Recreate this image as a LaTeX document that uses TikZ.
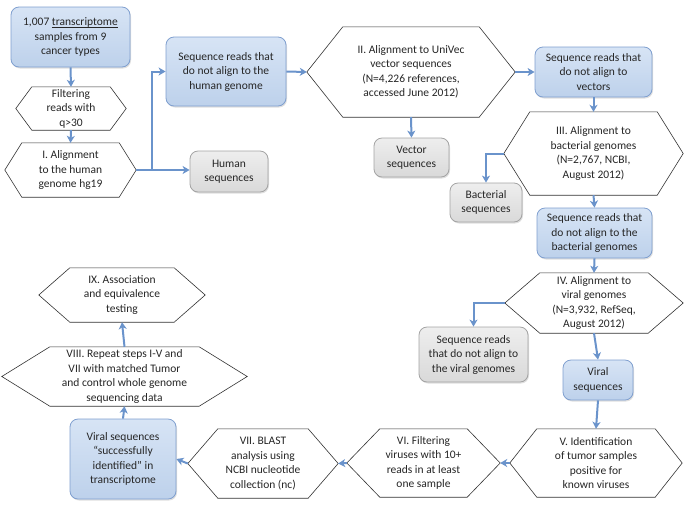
\documentclass[tikz,border=0pt]{standalone}
\usepackage{fontspec}
\setmainfont{Carlito}
\usetikzlibrary{arrows.meta,shadows,calc}
\definecolor{arrc}{HTML}{6A93CB}
\definecolor{bluetop}{HTML}{D7E4F5}
\definecolor{bluebot}{HTML}{BDD1EB}
\definecolor{blueline}{HTML}{7F9FCF}
\definecolor{graytop}{HTML}{EEEEEE}
\definecolor{graybot}{HTML}{D9D9D9}
\definecolor{grayline}{HTML}{A3A3A3}
\newcommand{\myul}[1]{{\setbox0\hbox{#1}\rlap{\rule[-1.6pt]{\wd0}{0.5pt}}\box0}}
\tikzset{
  txt/.style={font=\fontsize{11.5}{14.5}\selectfont, align=center, text=black!85, inner sep=0pt},
  bluebox/.style={txt, draw=blueline, line width=0.8pt, rounded corners=8pt, top color=bluetop, bottom color=bluebot,
    drop shadow={shadow xshift=1pt, shadow yshift=-1.5pt, opacity=0.25}},
  graybox/.style={txt, draw=grayline, line width=0.8pt, rounded corners=8pt, top color=graytop, bottom color=graybot,
    drop shadow={shadow xshift=1pt, shadow yshift=-1.5pt, opacity=0.25}},
  hexline/.style={draw=black!80, line width=0.6pt, fill=white},
  arr/.style={draw=arrc, line width=2pt, -{Stealth[length=7pt,width=8pt,inset=2pt]}},
  seg/.style={draw=arrc, line width=2pt},
}
% \hexnode{name}{cx}{cy}{w}{h}{inset}{text}
\newcommand{\hexnode}[7]{%
  \node[txt, minimum width=#4pt, minimum height=#5pt] (#1) at (#2,#3) {};
  \draw[hexline] (#1.west) -- ([xshift=#6pt]#1.north west) -- ([xshift=-#6pt]#1.north east)
     -- (#1.east) -- ([xshift=-#6pt]#1.south east) -- ([xshift=#6pt]#1.south west) -- cycle;
  \node[txt] at (#1.center) {#7};
}
\newcommand{\boxnode}[7]{%
  \node[#1, minimum width=#5pt, minimum height=#6pt] (#2) at (#3,#4) {#7};
}
\begin{document}
\begin{tikzpicture}[x=1pt,y=-1pt]
\useasboundingbox (0,0) rectangle (685,507);
% boxes
\boxnode{bluebox}{src}{70.5}{37}{119}{60}{1,007 \myul{transcriptome}\\samples from 9\\cancer types}
\boxnode{bluebox}{sr1}{226}{71.5}{120}{69}{Sequence reads that\\do not align to the\\human genome}
\boxnode{graybox}{human}{229}{171.5}{78}{41}{Human\\sequences}
\boxnode{graybox}{vector}{411.5}{157.5}{75}{39}{Vector\\sequences}
\boxnode{bluebox}{sr2}{593.5}{72}{117}{50}{Sequence reads that\\do not align to\\vectors}
\boxnode{graybox}{bact}{486}{202.5}{72}{39}{Bacterial\\sequences}
\boxnode{bluebox}{sr3}{594.5}{233}{115}{50}{Sequence reads that\\do not align to the\\bacterial genomes}
\boxnode{graybox}{notviral}{473.5}{354.5}{109}{55}{Sequence reads\\that do not align to\\the viral genomes}
\boxnode{bluebox}{viral}{598}{380}{70}{40}{Viral\\sequences}
\boxnode{bluebox}{succ}{123}{459}{106}{80}{Viral sequences\\“successfully\\identified” in\\transcriptome}
% hexagons
\hexnode{filt}{71}{108.5}{110}{43}{16}{Filtering\\reads with\\q>30}
\hexnode{al1}{70.5}{170}{131}{54}{17}{I. Alignment\\to the human\\genome hg19}
\hexnode{al2}{411}{72}{208}{90}{36}{II. Alignment to UniVec\\vector sequences\\(N=4,226 references,\\accessed June 2012)}
\hexnode{al3}{593.5}{153.5}{179}{83}{26}{III. Alignment to\\bacterial genomes\\(N=2,767, NCBI,\\August 2012)}
\hexnode{al4}{594}{303}{178}{60}{35}{IV. Alignment to\\viral genomes\\(N=3,932, RefSeq,\\August 2012)}
\hexnode{st5}{596}{463}{172}{68}{27}{V. Identification\\of tumor samples\\positive for\\known viruses}
\hexnode{st6}{423.5}{463}{153}{68}{33}{VI. Filtering\\viruses with 10+\\reads in at least\\one sample}
\hexnode{st7}{263}{463.5}{150}{69}{30}{VII. BLAST\\analysis using\\NCBI nucleotide\\collection (nc)}
\hexnode{st8}{124.5}{376.5}{245}{59}{48}{VIII. Repeat steps I-V and\\VII with matched Tumor\\and control whole genome\\sequencing data}
\hexnode{st9}{122}{295}{166}{54}{31}{IX. Association\\and equivalence\\testing}
% connectors
\draw[arr] (src.south) -- (filt.north);
\draw[arr] (filt.south) -- (al1.north);
\coordinate (j1) at (152,170);
\draw[seg] (al1.east) -- (j1);
\draw[arr] (j1) |- (sr1.west);
\draw[arr] (j1) -- (j1 -| human.west);
\draw[arr] (sr1.east) -- (al2.west);
\draw[arr] (al2.south) -- (vector.north);
\draw[arr] (al2.east) -- (sr2.west);
\draw[arr] (sr2.south) -- (al3.north);
\draw[arr] (al3.west) -| (bact.north);
\draw[arr] (al3.south) -- (sr3.north);
\draw[arr] (sr3.south) -- (al4.north);
\draw[arr] (al4.west) -| (notviral.north);
\draw[arr] (al4.south) -- (viral.north);
\draw[arr] (viral.south) -- (st5.north);
\draw[arr] (st5.west) -- (st6.east);
\draw[arr] (st6.west) -- (st7.east);
\draw[arr] (st7.west) -- (succ.east);
\draw[arr] (succ.north) -- (st8.south);
\draw[arr] (st8.north) -- (st9.south);
\end{tikzpicture}
\end{document}
